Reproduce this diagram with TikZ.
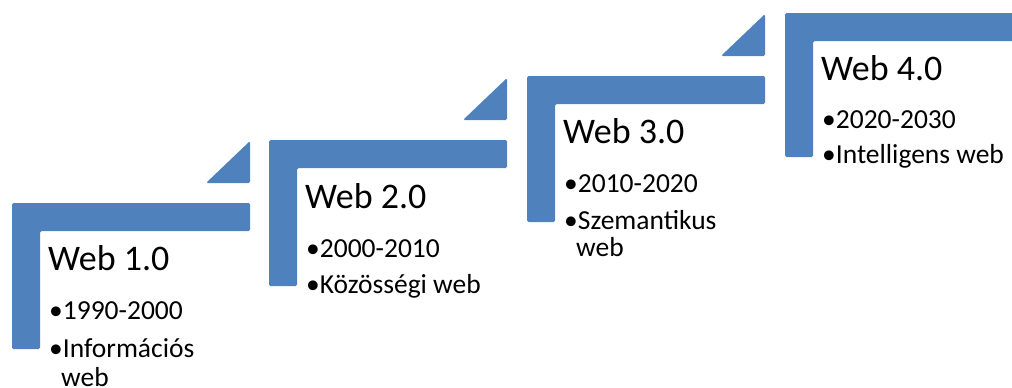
\documentclass[tikz,border=0pt]{standalone}
\usepackage{fontspec}
\setmainfont{Carlito}
\definecolor{stairblue}{HTML}{4F81BD}
\tikzset{
    stair/.style={fill=stairblue,draw=none,rounded corners=1.5pt},
    steptitle/.style={anchor=base west,inner sep=0pt,font=\fontsize{36}{40}\selectfont},
    stepitem/.style={anchor=base west,inner sep=0pt,font=\fontsize{27.5}{30}\selectfont},
}

\begin{document}
\begin{tikzpicture}[x=1pt,y=-1pt]
\useasboundingbox (0,0) rectangle (1012,388);
\clip (0,0) rectangle (1012,388);

% Web 1.0
\fill[stair] (12,203) -- ++(238,0) -- ++(0,28) -- ++(-210,0) -- ++(0,118) -- ++(-28,0) -- cycle;
\fill[stair] (250,183) -- ++(0,-42) -- ++(-44,42) -- cycle;
\node[steptitle] (title1) at (48,270) {Web 1.0};
\node[stepitem] (year1) at (49,319) {•1990-2000};
\node[stepitem] (kind1) at (49,357) {•Információs};
\node[stepitem] (kind1b) at (61,386) {web};

% Web 2.0
\fill[stair] (269,140) -- ++(238,0) -- ++(0,28) -- ++(-210,0) -- ++(0,118) -- ++(-28,0) -- cycle;
\fill[stair] (507,120) -- ++(0,-42) -- ++(-44,42) -- cycle;
\node[steptitle] (title2) at (305,208) {Web 2.0};
\node[stepitem] (year2) at (306,257) {•2000-2010};
\node[stepitem] (kind2) at (306,293) {•Közösségi web};

% Web 3.0
\fill[stair] (527,76) -- ++(238,0) -- ++(0,28) -- ++(-210,0) -- ++(0,118) -- ++(-28,0) -- cycle;
\fill[stair] (765,56) -- ++(0,-42) -- ++(-44,42) -- cycle;
\node[steptitle] (title3) at (563,143) {Web 3.0};
\node[stepitem] (year3) at (564,192) {•2010-2020};
\node[stepitem] (kind3) at (564,229) {•Szemantikus};
\node[stepitem] (kind3b) at (576,256) {web};

% Web 4.0
\fill[stair] (785,13) -- ++(238,0) -- ++(0,28) -- ++(-210,0) -- ++(0,116) -- ++(-28,0) -- cycle;
\node[steptitle] (title4) at (821,80) {Web 4.0};
\node[stepitem] (year4) at (822,128) {•2020-2030};
\node[stepitem] (kind4) at (822,163) {•Intelligens web};

\end{tikzpicture}
\end{document}
